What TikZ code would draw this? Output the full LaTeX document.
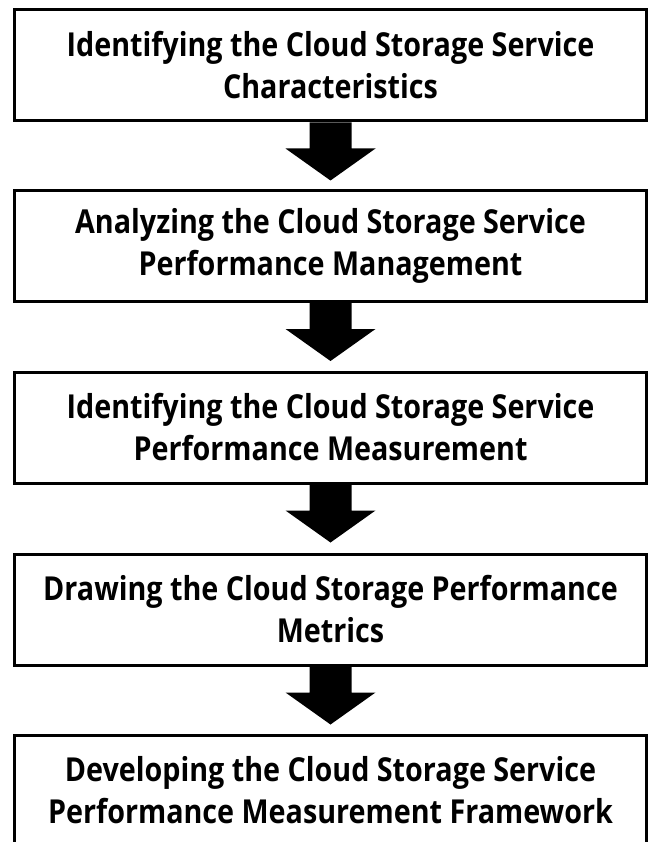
\documentclass[tikz,border=0pt]{standalone}
\usepackage{fontspec}
\setmainfont{Open Sans}[FakeStretch=0.87]
\usetikzlibrary{calc}
\tikzset{
  stepbox/.style={draw=black, line width=3pt, minimum width=631.5pt, minimum height=111pt, align=center, inner sep=0pt,
    font=\fontsize{33}{42}\selectfont\bfseries},
  bigarrow/.style={fill=black}
}
\newcommand{\downarrowshape}[2]{%
  \fill[bigarrow] ([xshift=-21pt]#1.south) -- ++(0,26) -- ++(-24,0) -- ++(45,32) -- ++(45,-32) -- ++(-24,0) -- ++(0,-26) -- cycle;}
\begin{document}
\begin{tikzpicture}[x=1pt,y=-1pt]
\useasboundingbox (0,0) rectangle (649,842);
\begin{scope}
\clip (0,0) rectangle (649,842);
\node[stepbox] (b1) at (330.5,65.5) {Identifying the Cloud Storage Service\\Characteristics};
\node[stepbox] (b2) at (330.5,246) {Analyzing the Cloud Storage Service\\Performance Management};
\node[stepbox] (b3) at (330.5,427.5) {Identifying the Cloud Storage Service\\Performance Measurement};
\node[stepbox] (b4) at (330.5,609.5) {Drawing the Cloud Storage Performance\\Metrics};
\node[stepbox] (b5) at (330.5,790.5) {Developing the Cloud Storage Service\\Performance Measurement Framework};
\downarrowshape{b1}{b2}
\downarrowshape{b2}{b3}
\downarrowshape{b3}{b4}
\downarrowshape{b4}{b5}
\end{scope}
\end{tikzpicture}
\end{document}
